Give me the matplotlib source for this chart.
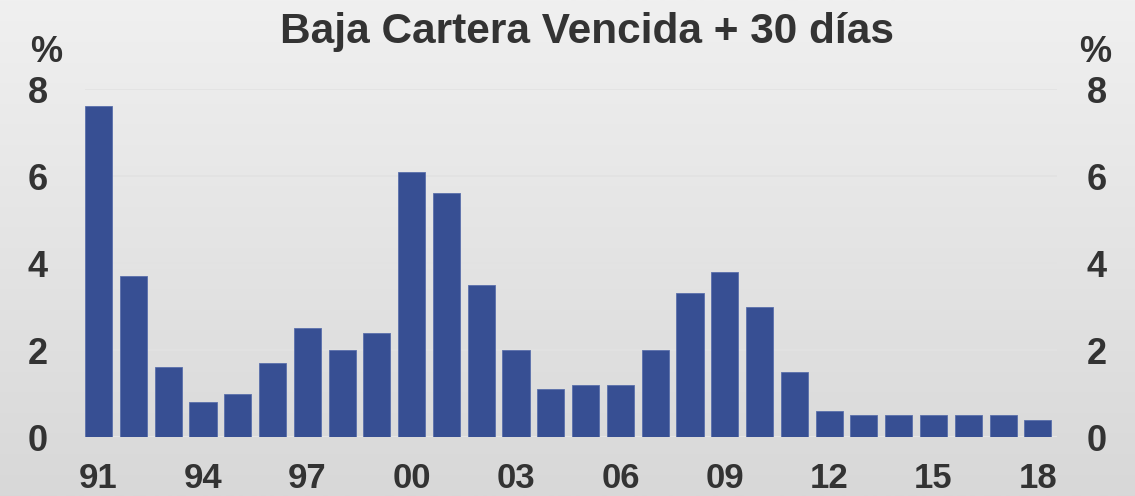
import numpy as np
import matplotlib
matplotlib.use("Agg")
import matplotlib.pyplot as plt

# -----------------------------
# Data
# -----------------------------
years = list(range(1991, 2019))
values = [7.6, 3.7, 1.6, 0.8, 1.0, 1.7, 2.5, 2.0, 2.4, 6.1,
          5.6, 3.5, 2.0, 1.1, 1.2, 1.2, 2.0, 3.3, 3.8, 3.0,
          1.5, 0.6, 0.5, 0.5, 0.5, 0.5, 0.5, 0.4]
y_ticks = [0, 2, 4, 6, 8]
title = "Baja Cartera Vencida + 30 días"

BAR_COLOR = "#374f93"
TEXT_COLOR = "#333333"
W, H = 1135, 496

plt.rcParams["font.family"] = ["Liberation Sans", "DejaVu Sans"]

fig = plt.figure(figsize=(W / 100, H / 100), dpi=100)

# gradient background
bg = fig.add_axes([0, 0, 1, 1], zorder=0)
grad = np.linspace(0, 1, 256).reshape(-1, 1)
cmap = matplotlib.colors.LinearSegmentedColormap.from_list("bg", ["#f0f0f0", "#d8d8d8"])
bg.imshow(grad, aspect="auto", cmap=cmap, extent=[0, 1, 0, 1], origin="upper")
bg.axis("off")

# plot area: y=0 at px 437, y=8 at px 89
ax = fig.add_axes([85 / W, (H - 437) / H, 972 / W, 348 / H], zorder=1)
ax.patch.set_alpha(0)

x = np.arange(len(years))
ax.bar(x, values, width=0.78, color=BAR_COLOR, edgecolor="#5a6fab",
       linewidth=0.6, zorder=3)

ax.set_xlim(-0.39, 27.55)
ax.set_ylim(0, 8)
ax.set_yticks(y_ticks)
ax.yaxis.grid(True, color="#e2e2e2", linewidth=1.2, zorder=0)
ax.set_axisbelow(True)

for s in ax.spines.values():
    s.set_visible(False)
ax.axhline(0, color="#e6e6e6", linewidth=1.5, zorder=2)

ax.tick_params(length=0)
ax.set_yticklabels([])
ax.set_xticks([])

lab = dict(fontsize=26, fontweight="bold", color=TEXT_COLOR)

# y labels on both sides
for v in y_ticks:
    yp = ax.transData.transform((0, v))[1] - 14
    fig.text(38 / W, yp / H, str(v), ha="center", va="baseline", **lab)
    fig.text(1097 / W, yp / H, str(v), ha="center", va="baseline", **lab)

# x labels every 3 years, sitting on the bottom edge
for i in x[::3]:
    xp = ax.transData.transform((i, 0))[0]
    fig.text(xp / W, 0.5 / H, f"{years[i] % 100:02d}", ha="center",
             va="bottom", fontsize=25, fontweight="bold", color=TEXT_COLOR)

fig.text(46 / W, (H - 62) / H, "%", ha="center", va="baseline", **lab)
fig.text(1095 / W, (H - 62) / H, "%", ha="center", va="baseline", **lab)

fig.text(587 / W, (H - 43) / H, title, ha="center", va="baseline",
         fontsize=30.5, fontweight="bold", color=TEXT_COLOR)

fig.savefig("out.png", dpi=100)
